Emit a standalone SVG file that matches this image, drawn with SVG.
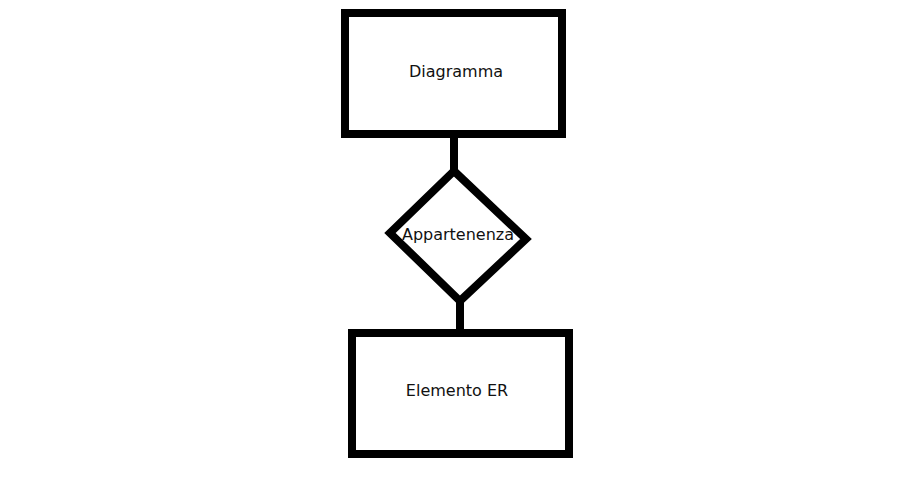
<svg xmlns="http://www.w3.org/2000/svg" width="910" height="500" viewBox="0 0 910 500">
<style>
.shape{fill:#fff;stroke:#000;stroke-width:8;stroke-linejoin:miter}
.conn{stroke:#000;stroke-width:8;fill:none}
.lbl{font-family:"DejaVu Sans",sans-serif;font-size:16px;fill:#111;text-anchor:middle}
</style>
<rect width="910" height="500" fill="#fff"/>
<g id="connectors">
<line class="conn" x1="454" y1="134" x2="454" y2="171"/>
<line class="conn" x1="460" y1="301" x2="460" y2="333"/>
</g>
<g id="diagramma">
<rect class="shape" x="345" y="13" width="217" height="121"/>
<text class="lbl" x="456" y="77">Diagramma</text>
</g>
<g id="appartenenza">
<polygon class="shape" points="454,171 526,239 460,301 390,233"/>
<text class="lbl" x="458" y="240">Appartenenza</text>
</g>
<g id="elemento-er">
<rect class="shape" x="352" y="333" width="217" height="121"/>
<text class="lbl" x="457" y="396">Elemento ER</text>
</g>
</svg>
